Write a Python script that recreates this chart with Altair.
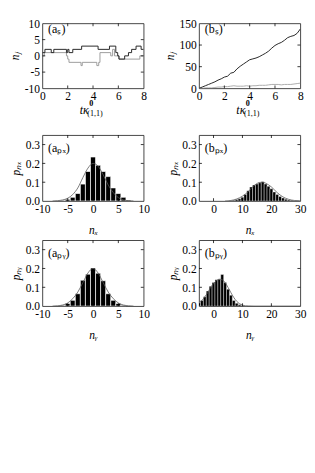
import altair as alt
import pandas as pd

FONT = "Liberation Serif"
W = 106
H1 = 68
H2 = 69

# ---------------- data ----------------
# (a_s) step trajectories
as_black_t = [0, 0.2, 0.7, 0.9, 1.9, 2.0, 2.1, 2.4, 3.1, 4.4, 5.3, 5.8, 5.95, 6.05, 6.5, 6.8, 7.05, 7.4, 7.8, 8.0]
as_black_v = [1, 2, 1, 2, 1, 2, 1, 2, 3, 2, 3, 1, 0, -1, 0, 1, 2, 3, 2, 2]
as_gray_t = [0, 0.15, 1.9, 2.0, 2.1, 3.05, 3.15, 4.3, 4.45, 4.55, 5.4, 5.55, 5.7, 5.85, 6.05, 7.7, 8.0]
as_gray_v = [0, 1, 0, -1, -2, -3, -2, -3, -2, 1, 0, 2, 0, 0, -1, 0, 0]

# (b_s) trajectories
bs_t = [0, 0.25, 0.5, 0.75, 1, 1.25, 1.5, 1.75, 2, 2.25, 2.5, 2.75, 3, 3.25, 3.5, 3.75, 4,
        4.25, 4.5, 4.75, 5, 5.25, 5.5, 5.75, 6, 6.25, 6.5, 6.75, 7, 7.25, 7.5, 7.75, 8]
bs_black = [0, 3, 6, 9, 12, 15, 19, 22, 26, 28, 35, 37, 45, 51, 56, 61, 66,
            68, 70, 73, 77, 81, 86, 93, 99, 103, 106, 111, 117, 120, 122, 127, 137]
bs_gray = [0, 0, 1, 1, 1, 2, 3, 3, 4, 4, 5, 6, 5, 5, 5, 6, 5,
           6, 6, 7, 7, 7, 8, 9, 9, 9, 8, 9, 9, 9, 10, 11, 12]

# (a_px) histogram + curve
apx_n = [-6, -5, -4, -3, -2, -1, 0, 1, 2, 3, 4, 5, 6, 7]
apx_p = [0.004, 0.009, 0.02, 0.04, 0.09, 0.157, 0.234, 0.19, 0.157, 0.13, 0.07, 0.04, 0.02, 0.005]
apx_cx = [-8, -7, -6, -5, -4, -3, -2, -1, 0, 1, 2, 3, 4, 5, 6, 7, 8]
apx_cy = [0.0, 0.002, 0.006, 0.015, 0.035, 0.07, 0.125, 0.175, 0.2, 0.185, 0.14, 0.085, 0.045, 0.018, 0.006, 0.002, 0.0]

# (b_px)
bpx_n = list(range(6, 30))
bpx_p = [0.002, 0.004, 0.008, 0.012, 0.02, 0.035, 0.055, 0.075, 0.085, 0.09, 0.097, 0.103,
         0.09, 0.078, 0.065, 0.048, 0.035, 0.024, 0.016, 0.01, 0.006, 0.004, 0.002, 0.001]
bpx_cx = [4, 6, 8, 10, 12, 14, 16, 17, 18, 20, 22, 24, 26, 28, 30]
bpx_cy = [0.0, 0.003, 0.011, 0.026, 0.05, 0.082, 0.099, 0.1, 0.095, 0.075, 0.045, 0.022, 0.009, 0.003, 0.001]

# (a_py)
apy_n = [-6, -5, -4, -3, -2, -1, 0, 1, 2, 3, 4, 5, 6]
apy_p = [0.005, 0.014, 0.031, 0.066, 0.138, 0.17, 0.203, 0.175, 0.135, 0.066, 0.031, 0.014, 0.005]
apy_cx = [-8, -7, -6, -5, -4, -3, -2, -1, 0, 1, 2, 3, 4, 5, 6, 7, 8]
apy_cy = [0.0, 0.002, 0.006, 0.017, 0.04, 0.075, 0.125, 0.176, 0.2, 0.176, 0.125, 0.075, 0.04, 0.017, 0.006, 0.002, 0.0]

# (b_py)
bpy_n = list(range(-5, 12))
bpy_p = [0.018, 0.03, 0.05, 0.08, 0.105, 0.125, 0.14, 0.143, 0.168, 0.125, 0.09, 0.058,
         0.03, 0.015, 0.007, 0.003, 0.001]
bpy_cx = [-5, -4, -3, -2, -1, 0, 1, 2, 3, 4, 5, 6, 7, 8, 9, 10, 11, 12, 14, 30]
bpy_cy = [0.02, 0.03, 0.05, 0.072, 0.1, 0.12, 0.135, 0.143, 0.14, 0.125, 0.1, 0.072, 0.046,
          0.026, 0.013, 0.006, 0.002, 0.001, 0.0, 0.0]


# ---------------- helpers ----------------
def make_axis(values, title, title_pad, orient_x=True):
    kw = dict(values=values, ticks=False, domain=False, grid=False,
              labelFont=FONT, labelFontSize=12, labelColor="black",
              labelPadding=3, labelFlush=False, labelOverlap=False,
              labelExpr="replace(datum.label, '\u2212', '-')")
    if title is None:
        kw["title"] = None
    else:
        kw.update(title=title, titleFont=FONT, titleFontSize=12, titleFontStyle="italic",
                  titleFontWeight="normal", titleColor="black", titlePadding=title_pad)
    return alt.Axis(**kw)


def tick_layers(xvals, yvals, xenc, yenc, w, h):
    L = 3
    xs = pd.DataFrame({"v": xvals})
    ys = pd.DataFrame({"v": yvals})
    st = dict(color="black", strokeWidth=0.8)
    bot = alt.Chart(xs).mark_rule(**st).encode(x=xenc("v"), y=alt.value(h), y2=alt.value(h - L))
    top = alt.Chart(xs).mark_rule(**st).encode(x=xenc("v"), y=alt.value(0), y2=alt.value(L))
    left = alt.Chart(ys).mark_rule(**st).encode(y=yenc("v"), x=alt.value(0), x2=alt.value(L))
    right = alt.Chart(ys).mark_rule(**st).encode(y=yenc("v"), x=alt.value(w - L), x2=alt.value(w))
    return [bot, top, left, right]


def text_piece(txt, x, y, size=12, style="normal", weight="normal", align="left"):
    return alt.Chart(pd.DataFrame({"s": [txt]})).mark_text(
        font=FONT, fontSize=size, fontStyle=style, fontWeight=weight,
        align=align, baseline="alphabetic", color="black", fill="black"
    ).encode(text="s:N", x=alt.value(x), y=alt.value(y))


def time_title():
    return [
        text_piece("t\u03ba", 39, 95, 12.5, style="italic"),
        text_piece("0", 49, 87, 8.5, weight="bold"),
        text_piece("(1,1)", 47, 97, 8.5),
    ]


def traj_panel(label, series, xdom, ydom, xvals, yvals, ylab, interp, h):
    xsc = alt.Scale(domain=xdom, nice=False, zero=False)
    ysc = alt.Scale(domain=ydom, nice=False, zero=False)
    xax = make_axis(xvals, None, 0)
    yax = make_axis(yvals, ylab, 3, orient_x=False)
    xenc = lambda f: alt.X(f"{f}:Q", scale=xsc, axis=xax)
    yenc = lambda f: alt.Y(f"{f}:Q", scale=ysc, axis=yax)
    layers = []
    for (t, v, col, sw) in series:
        df = pd.DataFrame({"t": t, "v": v})
        layers.append(alt.Chart(df).mark_line(color=col, strokeWidth=sw, interpolate=interp,
                                              clip=True)
                      .encode(x=xenc("t"), y=yenc("v")))
    inner_x = [v for v in xvals if xdom[0] < v < xdom[1]]
    inner_y = [v for v in yvals if ydom[0] < v < ydom[1]]
    layers += tick_layers(inner_x, inner_y, xenc, yenc, W, h)
    layers.append(text_piece(label, 6, 10, 12.5))
    layers += time_title()
    return alt.layer(*layers).properties(width=W, height=h)


def hist_panel(label, n, p, cx, cy, xdom, xvals, xlab, ylab, h, sw):
    xsc = alt.Scale(domain=xdom, nice=False, zero=False)
    ysc = alt.Scale(domain=[0, 0.35], nice=False, zero=False)
    xax = make_axis(xvals, xlab, 11)
    yax = make_axis([0, 0.1, 0.2, 0.3], ylab, 3, orient_x=False)
    xenc = lambda f: alt.X(f"{f}:Q", scale=xsc, axis=xax)
    yenc = lambda f: alt.Y(f"{f}:Q", scale=ysc, axis=yax)
    hdf = pd.DataFrame({"n": n, "p": p})
    bars = (alt.Chart(hdf)
            .transform_calculate(x0="datum.n - 0.5", x1="datum.n + 0.5")
            .mark_bar(color="black", stroke="white", strokeWidth=sw, clip=True)
            .encode(x=xenc("x0"), x2="x1:Q", y=yenc("p"), y2=alt.datum(0)))
    cdf = pd.DataFrame({"cx": cx, "cy": cy})
    curve = (alt.Chart(cdf).mark_line(color="#555555", strokeWidth=0.8, interpolate="monotone",
                                      clip=True)
             .encode(x=xenc("cx"), y=yenc("cy")))
    inner_x = [v for v in xvals if xdom[0] < v < xdom[1]]
    layers = [bars, curve] + tick_layers(inner_x, [0.1, 0.2, 0.3], xenc, yenc, W, h)
    layers.append(text_piece(label, 6, 18, 12.5))
    return alt.layer(*layers).properties(width=W, height=h)


# ---------------- panels ----------------
p_as = traj_panel("(a\u209b)",
                  [(as_gray_t, as_gray_v, "#999999", 1.0), (as_black_t, as_black_v, "#222222", 1.0)],
                  [0, 8], [-10, 10], [0, 2, 4, 6, 8], [-10, -5, 0, 5, 10],
                  "n\u2c7c", "step-after", H1)
p_bs = traj_panel("(b\u209b)",
                  [(bs_t, bs_gray, "#aaaaaa", 1.0), (bs_t, bs_black, "#222222", 1.0)],
                  [0, 8], [0, 150], [0, 2, 4, 6, 8], [0, 50, 100, 150],
                  "n\u2c7c", "linear", H1)

p_apx = hist_panel("(a\u209a\u2093)", apx_n, apx_p, apx_cx, apx_cy, [-10, 10],
                   [-10, -5, 0, 5, 10], "n\u2093", "p\u2099\u2093", H2, 0.7)
p_bpx = hist_panel("(b\u209a\u2093)", bpx_n, bpx_p, bpx_cx, bpx_cy, [-5, 30],
                   [0, 10, 20, 30], "n\u2093", "p\u2099\u2093", H2, 0.4)
p_apy = hist_panel("(a\u209a\u1d67)", apy_n, apy_p, apy_cx, apy_cy, [-10, 10],
                   [-10, -5, 0, 5, 10], "n\u1d67", "p\u2099\u1d67", H2, 0.7)
p_bpy = hist_panel("(b\u209a\u1d67)", bpy_n, bpy_p, bpy_cx, bpy_cy, [-5, 30],
                   [0, 10, 20, 30], "n\u1d67", "p\u2099\u1d67", H2, 0.4)

row1 = alt.hconcat(p_as, p_bs, spacing=16)
row2 = alt.hconcat(p_apx, p_bpx, spacing=16)
row3 = alt.hconcat(p_apy, p_bpy, spacing=16)
lower = alt.vconcat(row2, row3, spacing=3)

chart = (alt.vconcat(row1, lower, spacing=17)
         .properties(padding={"left": 0, "top": 1, "right": 0, "bottom": 5}, background="white")
         .configure_view(stroke="#111111", strokeWidth=0.8)
         .configure_axis(labelFont=FONT))

chart.save("out.html", embed_options={"renderer": "svg", "actions": False})
